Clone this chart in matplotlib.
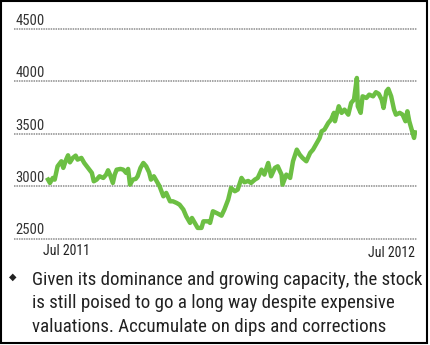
import matplotlib
matplotlib.use("Agg")
import matplotlib.pyplot as plt
from matplotlib.patches import Rectangle

# ---- data ----
days = [0, 2, 5, 7, 10, 14, 16, 19, 21, 23, 26, 29, 31, 35, 38, 42, 46, 48, 51, 54,
        58, 61, 63, 65, 68, 70, 72, 76, 79, 82, 84, 86, 89, 92, 94, 97, 100, 103, 106, 108,
        111, 114, 117, 121, 124, 128, 131, 135, 138, 142, 145, 149, 151, 154, 157, 161, 163, 168, 170, 173,
        178, 182, 185, 189, 192, 196, 199, 203, 206, 210, 213, 217, 220, 224, 227, 231, 234, 238, 241, 245,
        246, 250, 254, 257, 261, 264, 267, 271, 275, 278, 282, 285, 287, 290, 294, 297, 300, 301, 305, 308,
        311, 315, 318, 321, 324, 325, 328, 330, 334, 337, 341, 344, 347, 350, 352, 355, 357, 360, 363, 365,
        369, 372, 375, 377, 379, 381, 384, 385]
values = [3063, 3031, 3079, 3063, 3190, 3238, 3175, 3254, 3295, 3228, 3270, 3292, 3254, 3270, 3222, 3175, 3127, 3047, 3063, 3095,
          3079, 3111, 3152, 3111, 3031, 3111, 3158, 3165, 3158, 3127, 3165, 3015, 3063, 3070, 3095, 3175, 3222, 3190, 3133, 3063,
          3095, 3047, 3000, 2904, 2936, 2856, 2856, 2840, 2824, 2777, 2713, 2650, 2697, 2650, 2602, 2602, 2665, 2665, 2650, 2761,
          2739, 2719, 2777, 2872, 2984, 2952, 2968, 3079, 3038, 3050, 3031, 3063, 3079, 3158, 3111, 3222, 3095, 3175, 3190, 3111,
          3015, 3111, 3079, 3238, 3349, 3302, 3270, 3238, 3318, 3349, 3413, 3461, 3524, 3540, 3604, 3636, 3700, 3620, 3763, 3700,
          3731, 3683, 3795, 3827, 4033, 3763, 3700, 3858, 3842, 3874, 3858, 3897, 3881, 3827, 3747, 3906, 3929, 3858, 3731, 3683,
          3700, 3683, 3620, 3715, 3620, 3556, 3461, 3514]
y_ticks = [2500, 3000, 3500, 4000, 4500]
x_labels = ["Jul 2011", "Jul 2012"]
note_lines = ["Given its dominance and growing capacity, the stock",
              "is still poised to go a long way despite expensive",
              "valuations. Accumulate on dips and corrections"]

narrow = ["Roboto Condensed", "DejaVu Sans"]

W, H = 430, 345
fig = plt.figure(figsize=(W / 100, H / 100), dpi=100)
fig.patch.set_facecolor("white")

# axes: x from 14px to 417px, y from 19.6px to 244.9px (top origin)
ax = fig.add_axes([14 / W, (H - 244.9) / H, (417 - 14) / W, 225.3 / H])
ax.set_xlim(-35.7, 387.1)
ax.set_ylim(2440, 4590)
for s in ax.spines.values():
    s.set_visible(False)
ax.set_xticks([])
ax.set_yticks([])
ax.patch.set_alpha(0)

for t in y_ticks:
    ax.axhline(t, color="#8c8c8c", lw=1.1, ls=(0, (1, 0.6)), zorder=1)
    ax.text(0.003, t + 12, str(t), transform=ax.get_yaxis_transform(),
            ha="left", va="bottom", fontsize=10.5, family=narrow, color="#333333")

ax.plot(days, values, color="#6cbf43", lw=3.2, solid_joinstyle="round", zorder=3)

# x labels
fig.text(43 / W, 1 - 255 / H, x_labels[0], ha="left", va="baseline",
         fontsize=10, family=narrow, color="#222222")
fig.text(415 / W, 1 - 257 / H, x_labels[1], ha="right", va="baseline",
         fontsize=10, family=narrow, color="#222222")

# note
fig.text(13 / W, 1 - 280 / H, "\u25c6", ha="center", va="baseline", fontsize=7,
         family="DejaVu Sans", color="#222222")
for i, line in enumerate(note_lines):
    fig.text(32 / W, 1 - (285 + 23.3 * i) / H, line, ha="left", va="baseline",
             fontsize=13.6, family=narrow, color="#222222")

# border
fig.patches.append(Rectangle((1 / W, 2 / H), 426 / W, 342 / H, transform=fig.transFigure,
                             fill=False, edgecolor="black", lw=1.5))

fig.savefig("out.png", dpi=100)
